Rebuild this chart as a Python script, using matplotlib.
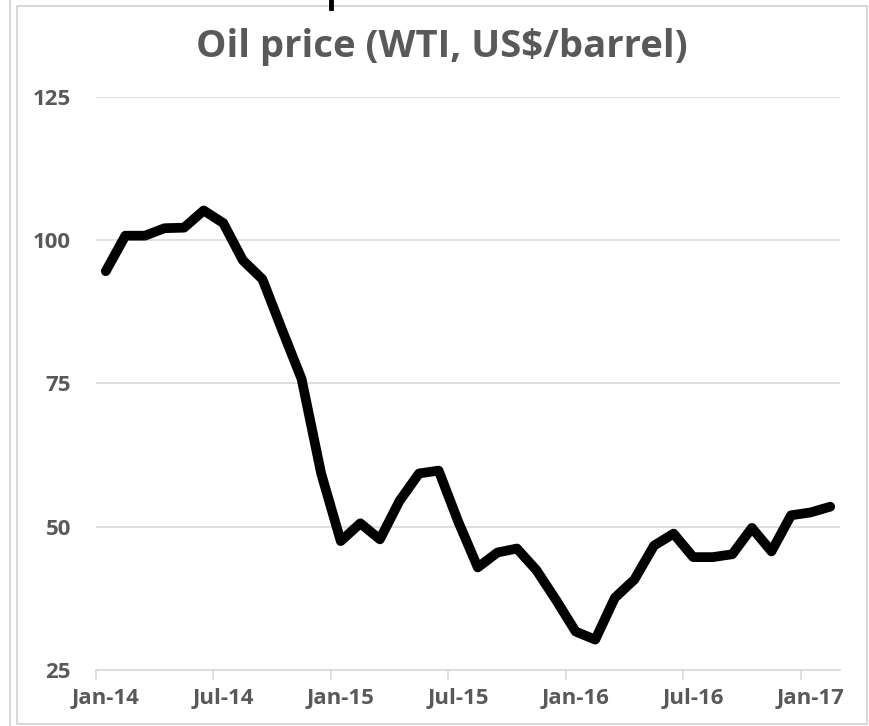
import numpy as np
import matplotlib.pyplot as plt
from matplotlib.patches import Rectangle
from matplotlib.lines import Line2D

# monthly WTI average, Jan-14 .. Feb-17
months = ['Jan-14', 'Feb-14', 'Mar-14', 'Apr-14', 'May-14', 'Jun-14', 'Jul-14', 'Aug-14',
          'Sep-14', 'Oct-14', 'Nov-14', 'Dec-14', 'Jan-15', 'Feb-15', 'Mar-15', 'Apr-15',
          'May-15', 'Jun-15', 'Jul-15', 'Aug-15', 'Sep-15', 'Oct-15', 'Nov-15', 'Dec-15',
          'Jan-16', 'Feb-16', 'Mar-16', 'Apr-16', 'May-16', 'Jun-16', 'Jul-16', 'Aug-16',
          'Sep-16', 'Oct-16', 'Nov-16', 'Dec-16', 'Jan-17', 'Feb-17']
price = [94.6, 100.8, 100.8, 102.1, 102.2, 105.2, 103.0, 96.5,
         93.2, 84.4, 75.8, 59.3, 47.5, 50.6, 47.8, 54.5,
         59.3, 59.8, 50.9, 42.9, 45.5, 46.2, 42.4, 37.2,
         31.7, 30.3, 37.6, 40.8, 46.7, 48.8, 44.7, 44.7,
         45.2, 49.8, 45.7, 52.0, 52.5, 53.5]
label_every = 6
y_ticks = [25, 50, 75, 100, 125]

grey_txt = '#595959'
grid_col = '#d9d9d9'
plt.rcParams['font.family'] = ['Open Sans', 'DejaVu Sans']

fig = plt.figure(figsize=(8.7, 7.26), dpi=100)
ax = fig.add_axes([96/870, 1-670/726, (840-96)/870, (670-97)/726])

x = np.arange(len(price))
ax.plot(x, price, color='black', lw=7, solid_joinstyle='round', solid_capstyle='round')

ax.set_xlim(-0.5, len(price) - 0.5)
ax.set_ylim(25, 125)
ax.set_yticks(y_ticks)
ax.set_yticklabels([str(v) for v in y_ticks], fontsize=16, fontweight='bold', color=grey_txt)
ax.grid(axis='y', color=grid_col, lw=1.2)
ax.set_axisbelow(True)

# labels at month centres, tick marks at month boundaries
lab_pos = x[::label_every]
ax.set_xticks(lab_pos)
ax.set_xticklabels([months[i] for i in lab_pos], fontsize=16, fontweight='bold', color=grey_txt)
ax.tick_params(axis='x', length=0, pad=13)
ax.set_xticks(lab_pos - 0.5, minor=True)
ax.tick_params(axis='x', which='minor', length=7, color=grid_col, width=1.2)
ax.tick_params(axis='y', length=0, pad=18)

for s in ['top', 'right', 'left']:
    ax.spines[s].set_visible(False)
ax.spines['bottom'].set_color(grid_col)
ax.spines['bottom'].set_linewidth(1.2)

fig.text(442/870, 1-47/726, 'Oil price (WTI, US$/barrel)', ha='center', va='center',
         fontsize=27.5, fontweight='bold', color=grey_txt)

# chart frame and bits of the neighbouring charts
fig.patches.append(Rectangle((17/870, 1-724/726), (867-17)/870, (724-6)/726,
                             transform=fig.transFigure, fill=False, ec=grid_col, lw=1.5))
fig.lines.append(Line2D([10/870, 10/870], [0, 1], transform=fig.transFigure, color=grid_col, lw=1.5))
fig.lines.append(Line2D([331/870, 331/870], [1-8/726, 1], transform=fig.transFigure, color='black', lw=3.5))

fig.savefig('out.png', dpi=100)
